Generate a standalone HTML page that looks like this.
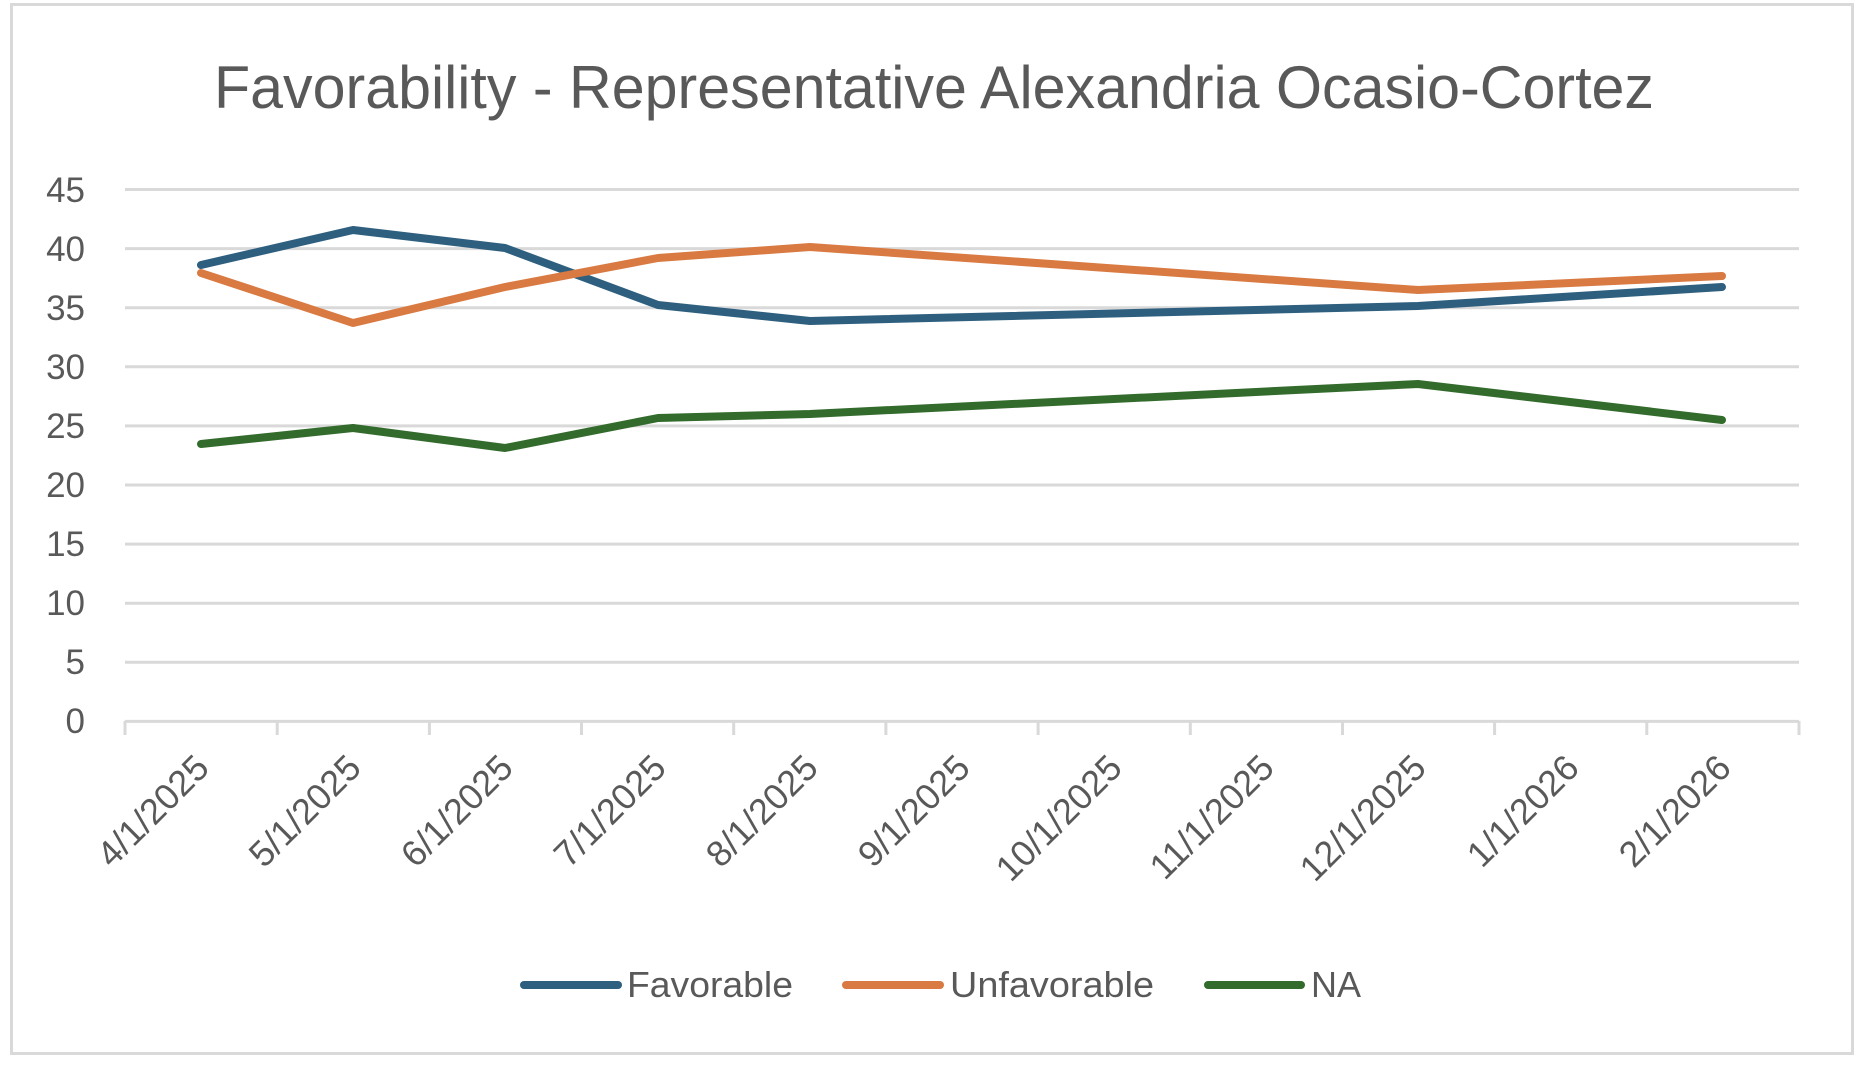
<!DOCTYPE html>
<html><head><meta charset="utf-8"><style>html,body{margin:0;padding:0;background:#fff}</style></head>
<body>
<svg width="1866" height="1062" viewBox="0 0 1866 1062" xmlns="http://www.w3.org/2000/svg" font-family="Liberation Sans, sans-serif">
<rect x="0" y="0" width="1866" height="1062" fill="#fff"/>
<rect x="11.5" y="4.5" width="1841" height="1049" fill="none" stroke="#d9d9d9" stroke-width="3"/>
<text x="934" y="108" font-size="60" fill="#595959" text-anchor="middle" textLength="1440" lengthAdjust="spacingAndGlyphs">Favorability - Representative Alexandria Ocasio-Cortez</text>
<g stroke="#d9d9d9" stroke-width="3">
<line x1="125" x2="1799" y1="189.5" y2="189.5"/>
<line x1="125" x2="1799" y1="248.6" y2="248.6"/>
<line x1="125" x2="1799" y1="307.7" y2="307.7"/>
<line x1="125" x2="1799" y1="366.8" y2="366.8"/>
<line x1="125" x2="1799" y1="425.9" y2="425.9"/>
<line x1="125" x2="1799" y1="485" y2="485"/>
<line x1="125" x2="1799" y1="544.1" y2="544.1"/>
<line x1="125" x2="1799" y1="603.2" y2="603.2"/>
<line x1="125" x2="1799" y1="662.3" y2="662.3"/>
<line x1="125" x2="1799" y1="721.4" y2="721.4"/>
<line x1="125" x2="125" y1="721" y2="735"/>
<line x1="277.2" x2="277.2" y1="721" y2="735"/>
<line x1="429.4" x2="429.4" y1="721" y2="735"/>
<line x1="581.5" x2="581.5" y1="721" y2="735"/>
<line x1="733.7" x2="733.7" y1="721" y2="735"/>
<line x1="885.9" x2="885.9" y1="721" y2="735"/>
<line x1="1038.1" x2="1038.1" y1="721" y2="735"/>
<line x1="1190.3" x2="1190.3" y1="721" y2="735"/>
<line x1="1342.5" x2="1342.5" y1="721" y2="735"/>
<line x1="1494.6" x2="1494.6" y1="721" y2="735"/>
<line x1="1646.8" x2="1646.8" y1="721" y2="735"/>
<line x1="1799" x2="1799" y1="721" y2="735"/>
</g>
<g font-size="35" fill="#595959" text-anchor="end">
<text x="85" y="202">45</text><text x="85" y="261">40</text><text x="85" y="320">35</text><text x="85" y="379">30</text><text x="85" y="438">25</text><text x="85" y="497">20</text><text x="85" y="556">15</text><text x="85" y="615">10</text><text x="85" y="674">5</text><text x="85" y="733">0</text>
</g>
<g font-size="36" fill="#595959" text-anchor="end">
<text transform="translate(211,770) rotate(-45)">4/1/2025</text>
<text transform="translate(363,770) rotate(-45)">5/1/2025</text>
<text transform="translate(515,770) rotate(-45)">6/1/2025</text>
<text transform="translate(668,770) rotate(-45)">7/1/2025</text>
<text transform="translate(820,770) rotate(-45)">8/1/2025</text>
<text transform="translate(972,770) rotate(-45)">9/1/2025</text>
<text transform="translate(1124,770) rotate(-45)">10/1/2025</text>
<text transform="translate(1276,770) rotate(-45)">11/1/2025</text>
<text transform="translate(1428,770) rotate(-45)">12/1/2025</text>
<text transform="translate(1581,770) rotate(-45)">1/1/2026</text>
<text transform="translate(1733,770) rotate(-45)">2/1/2026</text>
</g>
<g fill="none" stroke-width="8" stroke-linecap="round" stroke-linejoin="round">
<polyline stroke="#2E5F7F" points="201,265 353,230 505,248 658,305 810,321 1418,306 1722,287"/>
<polyline stroke="#D97A42" points="201,273 353,323 505,287 658,258 810,247 1418,290 1722,276"/>
<polyline stroke="#336B2C" points="201,444 353,428 505,448 658,418 810,414 1418,384 1722,420"/>
</g>
<g stroke-width="8" stroke-linecap="round">
<line x1="524" x2="618" y1="985" y2="985" stroke="#2E5F7F"/>
<line x1="846" x2="940" y1="985" y2="985" stroke="#D97A42"/>
<line x1="1208" x2="1301" y1="985" y2="985" stroke="#336B2C"/>
</g>
<g font-size="36" fill="#595959">
<text x="627" y="997" textLength="166" lengthAdjust="spacingAndGlyphs">Favorable</text>
<text x="950" y="997" textLength="204" lengthAdjust="spacingAndGlyphs">Unfavorable</text>
<text x="1311" y="997">NA</text>
</g>
</svg>
</body></html>
